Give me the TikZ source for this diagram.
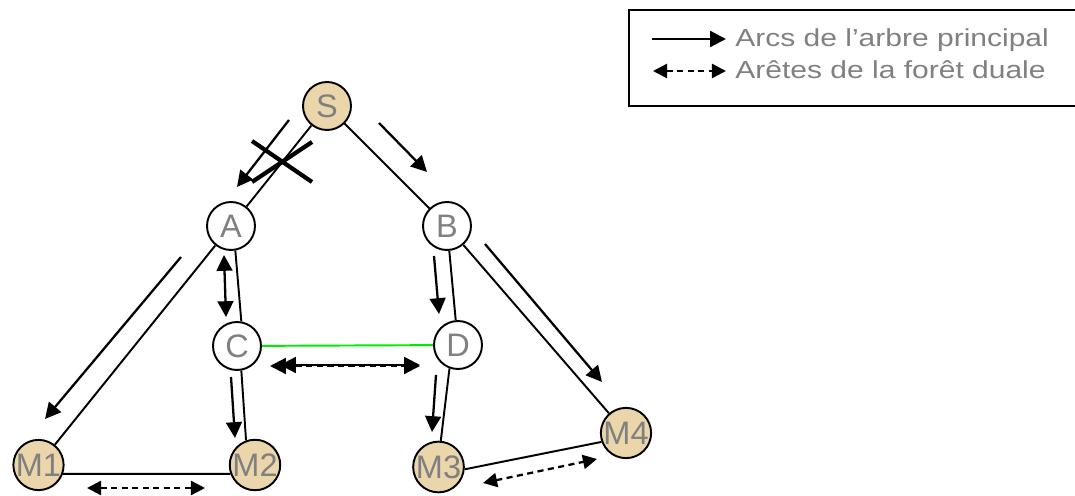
\documentclass[tikz,border=0pt]{standalone}
\usepackage{fontspec}
\setmainfont{Liberation Sans}
\newfontfamily\legendefont[FakeStretch=1.22]{Liberation Sans}
\usepackage{tikz}
\usetikzlibrary{arrows.meta}

\definecolor{sable}{RGB}{235,214,172}
\definecolor{gristexte}{RGB}{128,128,128}
\definecolor{vertvif}{RGB}{0,235,0}

\begin{document}
\begin{tikzpicture}[x=0.02cm,y=-0.02cm,
    sommet/.style={circle,draw,line width=1.1pt,minimum size=0.96cm,inner sep=0pt,text=gristexte,font=\fontsize{18.5}{20}\selectfont},
    machine/.style={sommet,fill=sable},
    arete/.style={line width=1.1pt},
    arc/.style={line width=1.3pt,-{Triangle[length=9pt,width=9pt]}},
    dual/.style={line width=1.3pt,dash pattern=on 3.5pt off 2.5pt,{Triangle[length=8pt,width=8pt]}-{Triangle[length=8pt,width=8pt]}},
    legende/.style={inner sep=0pt,text=gristexte,font=\legendefont\fontsize{14}{16}\selectfont}]

    \useasboundingbox (0,0) rectangle (1075,496);

    \node[machine]         (S) at (327, 106)        {S};
    \node[sommet]          (A) at (231, 226)        {A};
    \node[sommet]          (B) at (447, 226)        {B};
    \node[sommet]          (C) at (237, 346)        {C};
    \node[sommet]          (D) at (458, 345)        {D};
    \node[machine]         (M1) at (38.5, 465)      {M1};
    \node[machine]         (M2) at (255, 465)       {M2};
    \node[machine]         (M3) at (438.5, 467)     {M3};
    \node[machine]         (M4) at (626, 433)       {M4};

    \draw (S) edge[arete] (A);
    \draw (S) edge[arete] (B);
    \draw (A.-80) edge[arete] (C.80);
    \draw (A) edge[arete] (M1);
    \draw (C.-80) edge[arete] (M2.110);
    \draw (B) edge[arete] (D);
    \draw (B) edge[arete] (M4);
    \draw (D.-110) edge[arete] (M3.85);
    \draw (C) edge[arete,vertvif] (D);
    \draw (M1.-20) edge[arete] (M2.200);
    \draw (M3.-5) edge[arete] (M4.200);

    \coordinate (sa0) at (289, 120);  \coordinate (sa1) at (237, 187);
    \coordinate (sb0) at (379, 123);  \coordinate (sb1) at (427, 172);
    \coordinate (ac0) at (224, 255);  \coordinate (ac1) at (226, 317);
    \coordinate (am0) at (181, 257);  \coordinate (am1) at (45, 419);
    \coordinate (cm0) at (231, 377);  \coordinate (cm1) at (235, 438);
    \coordinate (bd0) at (434, 256);  \coordinate (bd1) at (439, 314);
    \coordinate (bm0) at (485, 244);  \coordinate (bm1) at (602, 382);
    \coordinate (dm0) at (436, 375);  \coordinate (dm1) at (432, 432);
    \coordinate (cd0) at (270, 366);  \coordinate (cd1) at (280, 365);
    \coordinate (cd2) at (420, 365);  \coordinate (cd3) at (420, 366);
    \coordinate (mm0) at (87, 488);   \coordinate (mm1) at (205, 488);
    \coordinate (mn0) at (483, 483);  \coordinate (mn1) at (597, 459);

    \draw (sa0) edge[arc] (sa1);
    \draw (sb0) edge[arc] (sb1);
    \draw (ac0) edge[arc,{Triangle[length=9pt,width=9pt]}-{Triangle[length=9pt,width=9pt]}] (ac1);
    \draw (am0) edge[arc] (am1);
    \draw (cm0) edge[arc] (cm1);
    \draw (bd0) edge[arc] (bd1);
    \draw (bm0) edge[arc] (bm1);
    \draw (dm0) edge[arc] (dm1);
    \draw (cd0) edge[dual,{Triangle[length=9pt,width=9pt]}-{Triangle[length=9pt,width=9pt]}] (cd3);
    \draw (cd1) edge[arc,{Triangle[length=9pt,width=9pt]}-{Triangle[length=9pt,width=9pt]}] (cd2);
    \draw (mm0) edge[dual] (mm1);
    \draw (mn0) edge[dual] (mn1);

    % arc S-A barre
    \draw[line width=2.4pt] (252, 141) -- (312, 182) (312, 142) -- (252, 182);

    % legende
    \draw[line width=1.4pt] (629, 10) rectangle (1080, 106);
    \coordinate (la0) at (652, 39);  \coordinate (la1) at (726, 39);
    \coordinate (lb0) at (653, 71);  \coordinate (lb1) at (726, 71);
    \draw (la0) edge[arc] (la1);
    \draw (lb0) edge[dual] (lb1);
    \node[legende,anchor=base west] (la) at (735, 47) {Arcs de l’arbre principal};
    \node[legende,anchor=base west] (lb) at (735, 79) {Arêtes de la forêt duale};
  \end{tikzpicture}
\end{document}
